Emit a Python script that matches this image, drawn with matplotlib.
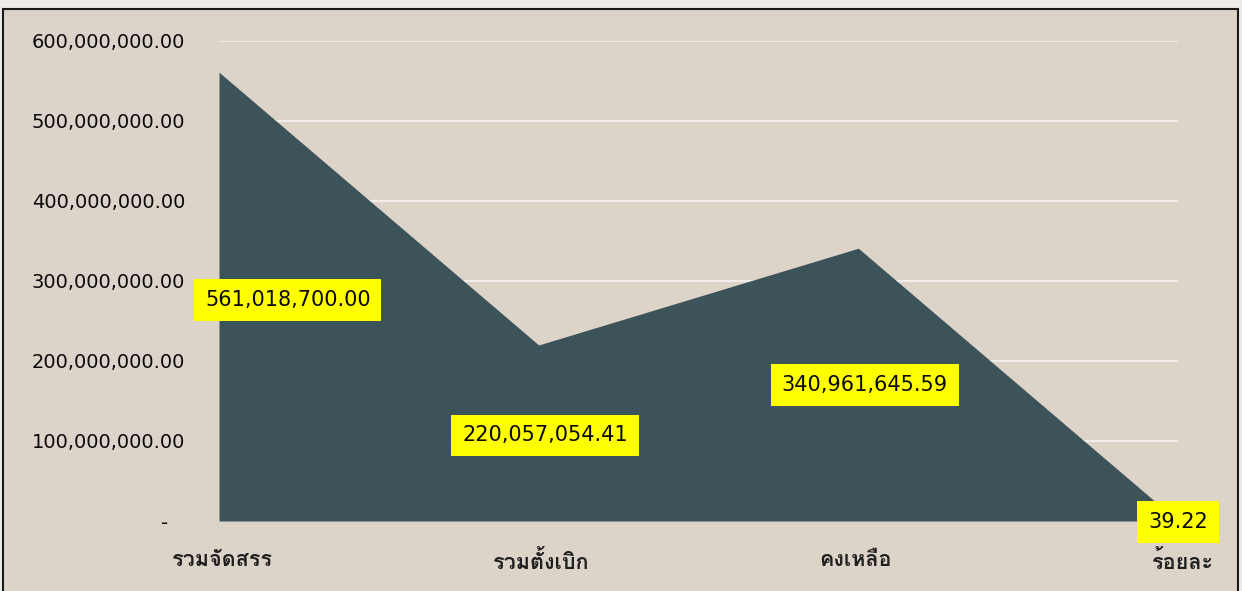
import matplotlib
matplotlib.use("Agg")
import matplotlib.pyplot as plt
from matplotlib import font_manager
from matplotlib.ft2font import FT2Font
from matplotlib.patches import Rectangle
from matplotlib.ticker import FuncFormatter
import matplotlib.transforms as mtransforms

# ---------------- data ----------------
categories = ["รวมจัดสรร", "รวมตั้งเบิก", "คงเหลือ", "ร้อยละ"]
values = [561018700.00, 220057054.41, 340961645.59, 39.22]
value_labels = ["561,018,700.00", "220,057,054.41", "340,961,645.59", "39.22"]
y_ticks = [0, 100e6, 200e6, 300e6, 400e6, 500e6, 600e6]

# label anchor positions (x in category units, y in data units)
label_x = [0.215, 1.02, 2.02, 3.0]
label_y = [276e6, 107e6, 170e6, -1.5e6]

# ---------------- fonts ----------------
thai_fam = None
for f in font_manager.fontManager.ttflist:
    try:
        cmap = FT2Font(f.fname).get_charmap()
        if 0x0E23 in cmap and 0x0E31 in cmap and 0x0E49 in cmap:
            thai_fam = f.name
            break
    except Exception:
        pass
fams = ["DejaVu Sans"] + ([thai_fam] if thai_fam else [])
plt.rcParams["font.family"] = fams

W, H = 1242, 591
fig = plt.figure(figsize=(W / 100, H / 100), dpi=100)
fig.patch.set_facecolor("#efeae5")
fig.patches.append(Rectangle((3 / W, -0.05), (1238 - 3) / W, (H - 9) / H + 0.05,
                             transform=fig.transFigure, facecolor="#dcd3c9",
                             edgecolor="#1a1a1a", linewidth=1.5, zorder=-10))

ax = fig.add_axes([219 / W, (H - 521) / H, (1178 - 219) / W, (521 - 41) / H])
ax.set_zorder(1)
ax.set_facecolor("none")
x = list(range(len(categories)))
ax.fill_between(x, values, 0, color=(52 / 255, 76 / 255, 84 / 255), alpha=0.95,
                linewidth=0, zorder=2)

ax.set_xlim(0, 3)
ax.set_ylim(0, 600e6)
ax.set_yticks(y_ticks)
ax.yaxis.set_major_formatter(FuncFormatter(lambda v, p: "-" if v == 0 else f"{v:,.2f}"))
ax.grid(axis="y", color="#f4f1ee", linewidth=1.3, zorder=1)
ax.set_axisbelow(True)
for s in ax.spines.values():
    s.set_visible(False)
ax.tick_params(axis="y", length=0, pad=24.5, labelsize=14, labelcolor="#0a0a0a")
ax.set_xticks(x)
ax.set_xticklabels(categories, fontsize=15.5, fontweight="bold", color="#1e1e1e")
ax.tick_params(axis="x", length=0, pad=21)

fig.canvas.draw()
yl = ax.get_yticklabels()
for t in yl:
    if t.get_text() == "-":
        t.set_transform(t.get_transform() + mtransforms.ScaledTranslation(-17 / 100, 0, fig.dpi_scale_trans))
xl = ax.get_xticklabels()
xoffs = [3, 2, -3, 5]
for t, dx in zip(xl, xoffs):
    t.set_transform(t.get_transform() + mtransforms.ScaledTranslation(dx / 100, 0, fig.dpi_scale_trans))

for lx, ly, lab in zip(label_x, label_y, value_labels):
    ax.text(lx, ly, lab, ha="center", va="center", fontsize=15, color="#0a0a0a",
            zorder=5, clip_on=False,
            bbox=dict(boxstyle="square,pad=0.52", facecolor="#ffff00", edgecolor="none"))

fig.savefig("out.png", dpi=100, facecolor=fig.get_facecolor())
